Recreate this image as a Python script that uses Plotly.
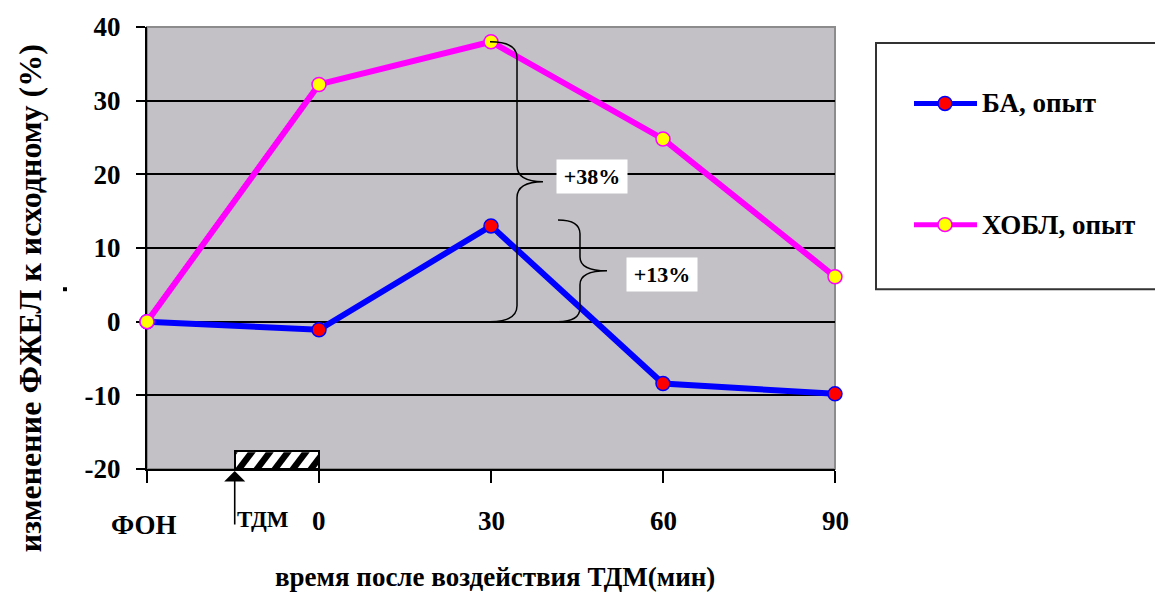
import plotly.graph_objects as go

# Time points (category positions) and their labels
time_labels = ["ФОН", "0", "30", "60", "90"]
time_pos = [0, 1, 2, 3, 4]

# Change of FVC relative to baseline, %
ba_values = [0.0, -1.1, 13.0, -8.4, -9.8]
copd_values = [0.0, 32.2, 38.0, 24.8, 6.1]

series_names = ["БА, опыт", "ХОБЛ, опыт"]

# Exposure period (hatched bar), in category units
tdm_start, tdm_end = 0.51, 1.0

y_ticks = [-20, -10, 0, 10, 20, 30, 40]
y_tick_text = ["-20", "-10", "0", "10", "20", "30", "40"]
y_range = [-20, 40]

FONT = "Liberation Serif"

# plot-area box in pixels
W, H = 1155, 593
PL, PR, PT, PB = 147, 835, 24, 469


def px(p):
    return (p - PL) / (PR - PL)


def py(p):
    return (PB - p) / (PB - PT)


def xd(p):
    # pixel -> category units
    return (p - PL) / (PR - PL) * (time_pos[-1] - time_pos[0])


def xpx(v):
    return PL + (v - time_pos[0]) * (PR - PL) / (time_pos[-1] - time_pos[0])


def yd(p):
    # pixel -> value units
    return y_range[1] - (p - PT) * (y_range[1] - y_range[0]) / (PB - PT)


def ypx(v):
    return PT + (y_range[1] - v) * (PB - PT) / (y_range[1] - y_range[0])


def bold(s):
    return f"<b>{s}</b>"


def clip_poly(poly, xmin, xmax, ymin, ymax):
    # Sutherland-Hodgman clipping against an axis-aligned box
    def clip(pts, inside, inter):
        out = []
        for i in range(len(pts)):
            cur, prev = pts[i], pts[i - 1]
            if inside(cur):
                if not inside(prev):
                    out.append(inter(prev, cur))
                out.append(cur)
            elif inside(prev):
                out.append(inter(prev, cur))
        return out

    def ix(a, b, x):
        t = (x - a[0]) / (b[0] - a[0])
        return (x, a[1] + t * (b[1] - a[1]))

    def iy(a, b, y):
        t = (y - a[1]) / (b[1] - a[1])
        return (a[0] + t * (b[0] - a[0]), y)

    pts = poly
    for inside, inter in [
        (lambda p: p[0] >= xmin, lambda a, b: ix(a, b, xmin)),
        (lambda p: p[0] <= xmax, lambda a, b: ix(a, b, xmax)),
        (lambda p: p[1] >= ymin, lambda a, b: iy(a, b, ymin)),
        (lambda p: p[1] <= ymax, lambda a, b: iy(a, b, ymax)),
    ]:
        if not pts:
            break
        pts = clip(pts, inside, inter)
    return pts


bar_height = 2.4

fig = go.Figure()

# exposure bar (outline); the hatching is added as shapes below
fig.add_trace(go.Bar(
    x=[(tdm_start + tdm_end) / 2], y=[bar_height], base=[y_range[0]],
    width=[tdm_end - tdm_start],
    marker=dict(color="white", line=dict(color="black", width=2)),
    showlegend=False, hoverinfo="skip",
))

fig.add_trace(go.Scatter(
    x=time_pos, y=ba_values, mode="lines+markers", name=series_names[0],
    line=dict(color="#0000FF", width=6),
    marker=dict(color="#FF0000", size=14, line=dict(color="#0000FF", width=1.5)),
    cliponaxis=False, showlegend=False,
))
fig.add_trace(go.Scatter(
    x=time_pos, y=copd_values, mode="lines+markers", name=series_names[1],
    line=dict(color="#FF00FF", width=6),
    marker=dict(color="#FFFF00", size=14, line=dict(color="#FF00FF", width=1.5)),
    cliponaxis=False, showlegend=False,
))

shapes = []
# grey frame of the plotting area
shapes.append(dict(type="rect", xref="paper", yref="paper", x0=0, x1=1, y0=0, y1=1,
                   line=dict(color="#8c8c8c", width=2), layer="between"))

# diagonal hatching inside the exposure bar
bx0, bx1 = xpx(tdm_start) + 1, xpx(tdm_end) - 1
by0, by1 = ypx(y_range[0] + bar_height) + 1, ypx(y_range[0]) - 1
stripe_w, stripe_step, stripe_shift = 8, 18, 12
b = bx0 - stripe_step * 2
while b < bx1 + stripe_step:
    poly = [(b, by1), (b + stripe_w, by1), (b + stripe_w + stripe_shift, by0), (b + stripe_shift, by0)]
    cp = clip_poly(poly, bx0, bx1, by0, by1)
    if len(cp) >= 3:
        path = "M " + " L ".join(f"{xd(a):.4f},{yd(c):.4f}" for a, c in cp) + " Z"
        shapes.append(dict(type="path", xref="x", yref="y", path=path,
                           fillcolor="black", line=dict(width=0)))
    b += stripe_step


def brace_path(xl, xs, xp, yt, yb, r=16):
    ym = (yt + yb) / 2
    pts = [
        ("M", [(xl, yt)]),
        ("Q", [(xs, yt), (xs, yt + r)]),
        ("L", [(xs, ym - r)]),
        ("Q", [(xs, ym), (xp, ym)]),
        ("Q", [(xs, ym), (xs, ym + r)]),
        ("L", [(xs, yb - r)]),
        ("Q", [(xs, yb), (xl, yb)]),
    ]
    out = []
    for cmd, ps in pts:
        out.append(cmd + " " + " ".join(f"{xd(a):.4f},{yd(c):.4f}" for a, c in ps))
    return " ".join(out)


shapes.append(dict(type="path", xref="x", yref="y",
                   path=brace_path(490, 517, 543, ypx(copd_values[2]), ypx(0)),
                   line=dict(color="black", width=1.5)))
shapes.append(dict(type="path", xref="x", yref="y",
                   path=brace_path(558, 580, 607, ypx(ba_values[2]) - 6, ypx(0), r=14),
                   line=dict(color="black", width=1.5)))

# stray dot next to the y-axis title
shapes.append(dict(type="rect", xref="paper", yref="paper",
                   x0=px(63), x1=px(67), y0=py(290), y1=py(286),
                   fillcolor="black", line=dict(width=0)))

# legend box
shapes.append(dict(type="rect", xref="paper", yref="paper",
                   x0=px(876), x1=px(1165), y0=py(288), y1=py(40),
                   fillcolor="white", line=dict(color="#333333", width=2)))
legend_rows = [(101, "#0000FF", "#FF0000"), (223, "#FF00FF", "#FFFF00")]
for (yy, lc, mc) in legend_rows:
    shapes.append(dict(type="line", xref="paper", yref="paper",
                       x0=px(914), x1=px(977), y0=py(yy), y1=py(yy),
                       line=dict(color=lc, width=5)))
    shapes.append(dict(type="circle", xref="paper", yref="paper",
                       x0=px(938), x1=px(952), y0=py(yy + 7), y1=py(yy - 7),
                       fillcolor=mc, line=dict(color=lc, width=1.5)))

annotations = []
for (yy, _, _), name in zip(legend_rows, series_names):
    annotations.append(dict(x=px(980), y=py(yy), xref="paper", yref="paper",
                            text=bold(name), showarrow=False, xanchor="left", yanchor="middle",
                            font=dict(family=FONT, size=27, color="black")))

# x tick labels
for pos, lab in zip(time_pos, time_labels):
    if lab == "ФОН":
        annotations.append(dict(x=px(144), y=py(525), xref="paper", yref="paper", text=bold(lab),
                                showarrow=False, xanchor="center", yanchor="middle",
                                font=dict(family=FONT, size=27, color="black")))
    else:
        annotations.append(dict(x=pos, y=py(521), xref="x", yref="paper", text=bold(lab),
                                showarrow=False, xanchor="center", yanchor="middle",
                                font=dict(family=FONT, size=27, color="black")))

# exposure label and arrow
annotations.append(dict(x=xd(263), y=py(520), xref="x", yref="paper", text=bold("ТДМ"),
                        showarrow=False, xanchor="center", yanchor="middle",
                        font=dict(family=FONT, size=23, color="black")))
annotations.append(dict(x=tdm_start, y=y_range[0], xref="x", yref="y", text="",
                        showarrow=True, ax=0, ay=57, arrowhead=1, arrowsize=2.2,
                        arrowwidth=1.6, arrowcolor="black", standoff=2))

# brace labels
annotations.append(dict(x=xd(592), y=yd(175), xref="x", yref="y", text=bold("+38%"),
                        showarrow=False, bgcolor="white", borderpad=2, width=66, height=29,
                        font=dict(family=FONT, size=22, color="black")))
annotations.append(dict(x=xd(662), y=yd(273), xref="x", yref="y", text=bold("+13%"),
                        showarrow=False, bgcolor="white", borderpad=2, width=66, height=29,
                        font=dict(family=FONT, size=22, color="black")))

# axis titles
annotations.append(dict(x=px(495), y=py(578), xref="paper", yref="paper",
                        text=bold("время после воздействия ТДМ(мин)"), showarrow=False,
                        xanchor="center", yanchor="middle",
                        font=dict(family=FONT, size=27, color="black")))
annotations.append(dict(x=px(30), y=py(297), xref="paper", yref="paper",
                        text=bold("изменение ФЖЕЛ к исходному (%)"), showarrow=False,
                        textangle=-90, xanchor="center", yanchor="middle",
                        font=dict(family=FONT, size=32, color="black")))

fig.update_layout(
    width=W, height=H, autosize=False,
    margin=dict(l=PL, r=W - PR, t=PT, b=H - PB, pad=0),
    paper_bgcolor="white", plot_bgcolor="#C3C1C5",
    showlegend=False, bargap=0,
    font=dict(family=FONT, size=27, color="black"),
    shapes=shapes, annotations=annotations,
)
fig.update_xaxes(range=[time_pos[0], time_pos[-1]], tickvals=time_pos, showticklabels=False,
                 ticks="outside", ticklen=12, tickwidth=2, tickcolor="black",
                 showline=True, linecolor="black", linewidth=2,
                 showgrid=False, zeroline=False, layer="below traces")
fig.update_yaxes(range=y_range, tickvals=y_ticks, ticktext=[bold(t) for t in y_tick_text],
                 ticks="outside", ticklen=9,
                 tickwidth=2, tickcolor="black", ticklabelstandoff=10,
                 tickfont=dict(family=FONT, size=27, color="black"),
                 showline=True, linecolor="black", linewidth=2,
                 showgrid=True, gridcolor="black", gridwidth=2,
                 zeroline=True, zerolinecolor="black", zerolinewidth=2,
                 layer="below traces")

fig.write_html("out.html")
